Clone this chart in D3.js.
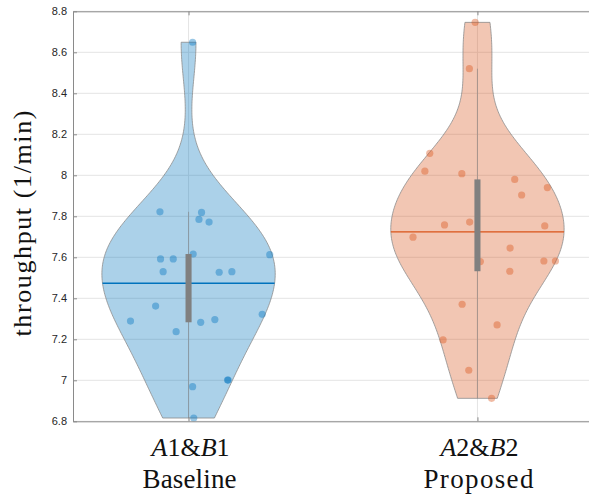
<!DOCTYPE html>
<html>
<head>
<meta charset="utf-8">
<script src="https://cdn.jsdelivr.net/npm/d3@7"></script>
<style>
  html, body { margin: 0; padding: 0; background: #fff; }
  svg { display: block; }
</style>
</head>
<body>
<svg id="chart" width="589" height="495"></svg>
<script>
// Throughput samples per configuration, with horizontal jitter offsets (category units)
const categories = ["A1&B1", "A2&B2"];
const subtitles = ["Baseline", "Proposed"];

const baselineValues = [8.649, 7.822, 7.819, 7.785, 7.772, 7.616, 7.613, 7.592, 7.592, 7.530, 7.527,
  7.530, 7.362, 7.289, 7.283, 7.296, 7.322, 7.237, 7.001, 7.001, 6.969, 6.816];
const baselineJitter = [0.014, -0.099, 0.045, 0.036, 0.071, 0.016, 0.281, -0.097, -0.053, -0.088, 0.106,
  0.150, -0.114, -0.201, 0.042, 0.091, 0.255, -0.043, 0.135, 0.137, 0.014, 0.018];

const proposedValues = [8.746, 8.520, 8.107, 8.020, 8.008, 7.980, 7.940, 7.904, 7.758, 7.772, 7.753,
  7.698, 7.645, 7.579, 7.582, 7.582, 7.532, 7.371, 7.270, 7.197, 7.049, 6.912];
const proposedJitter = [-0.008, -0.028, -0.165, -0.182, -0.054, 0.129, 0.242, 0.153, -0.114, -0.027, 0.233,
  -0.223, 0.113, 0.010, 0.230, 0.270, 0.112, -0.053, 0.068, -0.119, -0.030, 0.049];

const yTicks = [6.8, 7, 7.2, 7.4, 7.6, 7.8, 8, 8.2, 8.4, 8.6, 8.8];
const yTickLabels = ["6.8", "7", "7.2", "7.4", "7.6", "7.8", "8", "8.2", "8.4", "8.6", "8.8"];

const seriesColors = ["#0072BD", "#D95319"];

const groups = [
  { values: baselineValues, jitter: baselineJitter, color: seriesColors[0] },
  { values: proposedValues, jitter: proposedJitter, color: seriesColors[1] }
];

const svg = d3.select("#chart");
const plot = { left: 73, right: 593, top: 11.3, bottom: 421.3 };

const x = d3.scaleLinear().domain([0.6, 2.4]).range([plot.left, plot.right]);
const y = d3.scaleLinear().domain([6.8, 8.8]).range([plot.bottom, plot.top]);

const violinHalfWidth = 0.3;
const boxWidth = 0.021;

// Gaussian kernel density with the normal-reference (MAD based) bandwidth
function kde(values) {
  const n = values.length;
  const med = d3.median(values);
  const mad = d3.median(values.map(v => Math.abs(v - med)));
  const sig = mad / 0.6745;
  const bw = sig * Math.pow(4 / (3 * n), 1 / 5);
  return t => d3.sum(values, v => Math.exp(-0.5 * ((t - v) / bw) ** 2)) / (n * bw * Math.sqrt(2 * Math.PI));
}

function quantileMatlab(sorted, p) {
  const n = sorted.length;
  const pos = n * p + 0.5;
  if (pos <= 1) return sorted[0];
  if (pos >= n) return sorted[n - 1];
  const lo = Math.floor(pos);
  const frac = pos - lo;
  return sorted[lo - 1] + frac * (sorted[lo] - sorted[lo - 1]);
}

// Grid
const grid = svg.append("g");
grid.selectAll("line.gy").data(yTicks).join("line")
  .attr("x1", plot.left).attr("x2", plot.right)
  .attr("y1", d => y(d)).attr("y2", d => y(d))
  .attr("stroke", "#e4e4e4").attr("stroke-width", 1);
grid.selectAll("line.gx").data([1, 2]).join("line")
  .attr("x1", d => x(d)).attr("x2", d => x(d))
  .attr("y1", plot.top).attr("y2", plot.bottom)
  .attr("stroke", "#e4e4e4").attr("stroke-width", 1);

groups.forEach((g, i) => {
  const pos = i + 1;
  const sorted = g.values.slice().sort(d3.ascending);
  const lo = sorted[0], hi = sorted[sorted.length - 1];
  const dens = kde(g.values);
  const steps = 240;
  const pts = d3.range(steps + 1).map(k => lo + (hi - lo) * k / steps);
  const dvals = pts.map(dens);
  const dmax = d3.max(dvals);
  const w = t => violinHalfWidth * dens(t) / dmax;
  const shape = pts.map((t, k) => ({ t, w: violinHalfWidth * dvals[k] / dmax }));

  const area = d3.area()
    .y(d => y(d.t))
    .x0(d => x(pos - d.w))
    .x1(d => x(pos + d.w));

  svg.append("path")
    .datum(shape)
    .attr("d", area)
    .attr("fill", g.color)
    .attr("fill-opacity", 0.33)
    .attr("stroke", "#8c8c8c")
    .attr("stroke-width", 0.8);

  // samples
  svg.append("g").selectAll("circle")
    .data(g.values.map((v, k) => ({ v, j: g.jitter[k] })))
    .join("circle")
    .attr("cx", d => x(pos + d.j))
    .attr("cy", d => y(d.v))
    .attr("r", 3.6)
    .attr("fill", g.color)
    .attr("fill-opacity", 0.4);

  // mean line across the violin
  const mean = d3.mean(g.values);
  svg.append("line")
    .attr("x1", x(pos - w(mean))).attr("x2", x(pos + w(mean)))
    .attr("y1", y(mean)).attr("y2", y(mean))
    .attr("stroke", g.color).attr("stroke-width", 1.4);

  // whiskers and interquartile box
  const q1 = quantileMatlab(sorted, 0.25);
  const q3 = quantileMatlab(sorted, 0.75);
  const iqr = q3 - q1;
  const wLo = d3.min(sorted.filter(v => v >= q1 - 1.5 * iqr));
  const wHi = d3.max(sorted.filter(v => v <= q3 + 1.5 * iqr));
  svg.append("line")
    .attr("x1", x(pos)).attr("x2", x(pos))
    .attr("y1", y(wLo)).attr("y2", y(wHi))
    .attr("stroke", "#808080").attr("stroke-opacity", 0.6).attr("stroke-width", 1);
  svg.append("rect")
    .attr("x", x(pos - boxWidth / 2))
    .attr("width", x(pos + boxWidth / 2) - x(pos - boxWidth / 2))
    .attr("y", y(q3))
    .attr("height", y(q1) - y(q3))
    .attr("fill", "#808080");
});

// Axes frame
const axisColor = "#8a8a8a";
const yAxisL = d3.axisLeft(y).tickValues(yTicks).tickFormat((d, k) => yTickLabels[k]).tickSizeInner(-4).tickSizeOuter(0).tickPadding(6);
const yAxisR = d3.axisRight(y).tickValues(yTicks).tickFormat("").tickSizeInner(-4).tickSizeOuter(0);
const xAxisB = d3.axisBottom(x).tickValues([1, 2]).tickFormat("").tickSizeInner(-4).tickSizeOuter(0);
const xAxisT = d3.axisTop(x).tickValues([1, 2]).tickFormat("").tickSizeInner(-4).tickSizeOuter(0);

function styleAxis(sel) {
  sel.select(".domain").attr("stroke", axisColor).attr("stroke-width", 1);
  sel.selectAll(".tick line").attr("stroke", axisColor);
  sel.selectAll(".tick text")
    .attr("fill", "#262626")
    .style("font-family", "'Liberation Sans', Arial, sans-serif")
    .style("font-size", "11px");
}

svg.append("g").attr("transform", `translate(${plot.left},0)`).call(yAxisL).call(styleAxis);
svg.append("g").attr("transform", `translate(${plot.right},0)`).call(yAxisR).call(styleAxis);
svg.append("g").attr("transform", `translate(0,${plot.bottom})`).call(xAxisB).call(styleAxis);
svg.append("g").attr("transform", `translate(0,${plot.top})`).call(xAxisT).call(styleAxis);

// Category labels
const serif = "'Liberation Serif', 'Times New Roman', serif";
const subtitleWidths = [94, 110];
categories.forEach((c, i) => {
  const cx = x(i + 1) + 2;
  const m = c.match(/^([A-Z])(\d)&([A-Z])(\d)$/);
  const t = svg.append("text")
    .attr("x", cx).attr("y", 456)
    .attr("text-anchor", "middle")
    .style("font-family", serif).style("font-size", "26px").attr("fill", "#111");
  t.append("tspan").style("font-style", "italic").text(m[1]);
  t.append("tspan").text(m[2] + "&");
  t.append("tspan").style("font-style", "italic").text(m[3]);
  t.append("tspan").text(m[4]);

  svg.append("text")
    .attr("x", x(i + 1) + 1).attr("y", 488)
    .attr("text-anchor", "middle")
    .style("font-family", serif).style("font-size", "27px").attr("fill", "#111")
    .attr("textLength", subtitleWidths[i]).attr("lengthAdjust", "spacing")
    .text(subtitles[i]);
});

// Y axis title
svg.append("text")
  .attr("transform", "translate(31,223.5) rotate(-90)")
  .attr("text-anchor", "middle")
  .style("font-family", serif).style("font-size", "26px").attr("fill", "#111")
  .attr("textLength", 226).attr("lengthAdjust", "spacing")
  .text("throughput (1/min)");
</script>
</body>
</html>
